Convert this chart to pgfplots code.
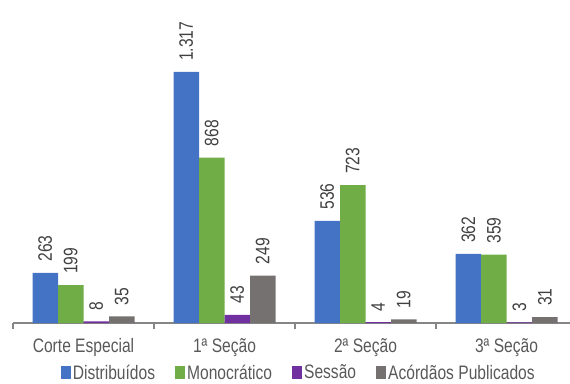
\documentclass[border=0pt]{standalone}
\usepackage{fontspec}
\setmainfont{Liberation Sans}[FakeStretch=0.8]
\usepackage{pgfplots}
\pgfplotsset{compat=1.18}
\definecolor{cBlue}{HTML}{4472C4}
\definecolor{cGreen}{HTML}{70AD47}
\definecolor{cPurple}{HTML}{7030A0}
\definecolor{cGray}{HTML}{767171}
\definecolor{axisgray}{HTML}{868686}
\definecolor{labgray}{HTML}{595959}
\definecolor{numgray}{HTML}{404040}
\begin{document}
\begin{tikzpicture}[x=1pt,y=1pt]
\path[use as bounding box] (0,0) rectangle (570,383);
\begin{axis}[
  at={(13pt,60pt)}, anchor=south west,
  scale only axis, width=557pt, height=305pt,
  xmin=-0.5, xmax=3.45, ymin=0, ymax=1600,
  ybar=0pt, bar width=25.5pt,
  axis x line=bottom, axis y line=none,
  x axis line style={-, draw=axisgray, line width=1.6pt},
  xtick={0,1,2,3},
  xticklabels={Corte Especial, 1ª Seção, 2ª Seção, 3ª Seção},
  major x tick style={draw=none},
  minor xtick={-0.5,0.5,1.5,2.5},
  minor tick length=6pt, tick align=outside,
  minor x tick style={draw=axisgray, line width=1.2pt},
  xticklabel style={font=\fontsize{19.5}{22}\selectfont, text=labgray, yshift=-8pt},
  clip=false,
  nodes near coords={\pgfmathprintnumber[1000 sep={.},assume math mode=true]{\pgfplotspointmeta}},
  every node near coord/.append style={rotate=90, anchor=west, font=\fontsize{19.5}{22}\selectfont, text=numgray, inner xsep=11pt, inner ysep=0pt},
  legend columns=4,
  legend style={at={(axis description cs:0.513,-0.163)}, anchor=center, draw=none, fill=none, font=\fontsize{19.5}{22}\selectfont, text=labgray, /tikz/every even column/.append style={column sep=18pt}},
  legend image code/.code={\fill[#1] (0pt,-6.3pt) rectangle (10pt,6.3pt);},
]
\addplot[fill=cBlue, draw=none] coordinates {(0,263) (1,1317) (2,536) (3,362)};
\addplot[fill=cGreen, draw=none] coordinates {(0,199) (1,868) (2,723) (3,359)};
\addplot[fill=cPurple, draw=none] coordinates {(0,8) (1,43) (2,4) (3,3)};
\addplot[fill=cGray, draw=none] coordinates {(0,35) (1,249) (2,19) (3,31)};
\legend{Distribuídos, Monocrático, Sessão, Acórdãos Publicados}
\end{axis}
\end{tikzpicture}
\end{document}
